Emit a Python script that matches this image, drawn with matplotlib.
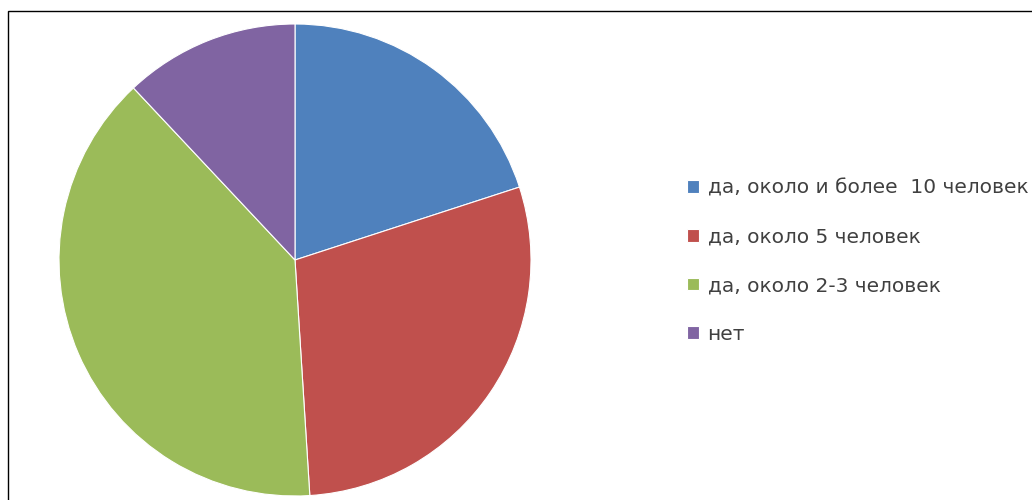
import matplotlib
matplotlib.use("Agg")
import matplotlib.pyplot as plt
from matplotlib.patches import Rectangle

labels = ["да, около и более  10 человек", "да, около 5 человек", "да, около 2-3 человек", "нет"]
values = [20, 29, 39, 12]
colors = ["#4F81BD", "#C0504D", "#9BBB59", "#8064A2"]

W, H = 1032, 500
fig = plt.figure(figsize=(W / 100, H / 100), dpi=100)
fig.patch.set_facecolor("white")

cx, cy, r = 295, 260, 236
ax = fig.add_axes([(cx - r) / W, (H - cy - r) / H, 2 * r / W, 2 * r / H])
wedges, _ = ax.pie(values, colors=colors, startangle=90, counterclock=False,
                   radius=1.0, wedgeprops=dict(edgecolor="white", linewidth=0.8))
ax.set_xlim(-1, 1)
ax.set_ylim(-1, 1)
ax.set_aspect("equal")
ax.axis("off")

leg = fig.legend(wedges, labels, loc="upper left",
                 bbox_to_anchor=(687 / W, 1 - 178.5 / H), frameon=False,
                 prop=dict(family="DejaVu Sans", size=14.5), handlelength=0.6,
                 handleheight=0.6, handletextpad=0.42, labelspacing=1.48,
                 borderaxespad=0, borderpad=0)
for t in leg.get_texts():
    t.set_color("#404040")

frame = Rectangle((7.5 / W, -0.1), 2.0, 1 - 10.5 / H + 0.1, transform=fig.transFigure,
                  fill=False, edgecolor="black", linewidth=1.0)
fig.patches.append(frame)

fig.savefig("out.png", dpi=100, facecolor="white")
